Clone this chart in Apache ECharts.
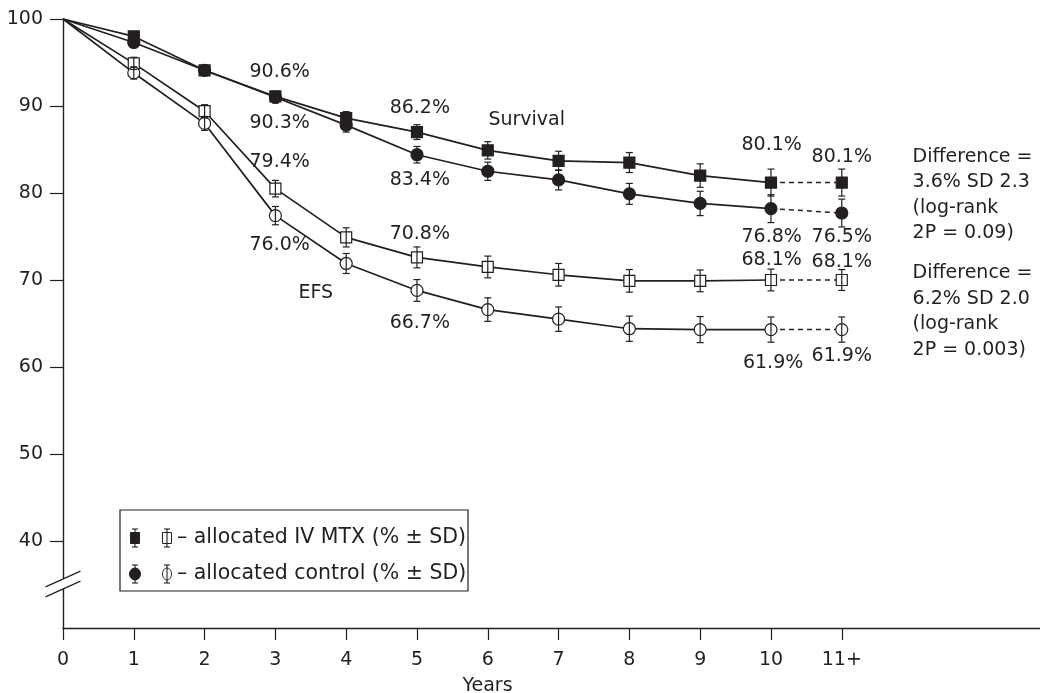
<!DOCTYPE html>
<html><head><meta charset="utf-8">
<script src="https://cdn.jsdelivr.net/npm/echarts@6/dist/echarts.min.js"></script>
<style>html,body{margin:0;padding:0;background:#fff}#c{width:1040px;height:693px}</style>
</head><body><div id="c"></div>
<script>
// ---- data (index 11 = "11+") ----
const years = [0, 1, 2, 3, 4, 5, 6, 7, 8, 9, 10, 11];
const xTickValues = [0, 1, 2, 3, 4, 5, 6, 7, 8, 9, 10, 11];
const xTickLabels = ['0', '1', '2', '3', '4', '5', '6', '7', '8', '9', '10', '11+'];
const yTickValues = [40, 50, 60, 70, 80, 90, 100];

const survMTX  = [100, 98.0, 94.1, 91.1, 88.6, 87.0, 84.9, 83.7, 83.5, 82.0, 81.2, 81.2];
const survCtrl = [100, 97.3, 94.1, 91.0, 87.8, 84.4, 82.5, 81.5, 79.9, 78.8, 78.2, 77.7];
const efsMTX   = [100, 94.9, 89.4, 80.5, 74.9, 72.6, 71.5, 70.6, 69.9, 69.9, 70.0, 70.0];
const efsCtrl  = [100, 93.8, 88.0, 77.4, 71.9, 68.8, 66.6, 65.5, 64.4, 64.3, 64.3, 64.3];

const survMTXsd  = [0, 0.4, 0.5, 0.6, 0.75, 0.85, 1.0, 1.1, 1.15, 1.35, 1.55, 1.55];
const survCtrlsd = [0, 0.4, 0.5, 0.65, 0.8, 0.95, 1.05, 1.15, 1.2, 1.4, 1.6, 1.6];
const efsMTXsd   = [0, 0.7, 0.75, 0.95, 1.1, 1.2, 1.25, 1.3, 1.3, 1.25, 1.25, 1.2];
const efsCtrlsd  = [0, 0.7, 0.8, 1.05, 1.15, 1.25, 1.35, 1.4, 1.45, 1.5, 1.45, 1.45];

// text annotations in data coordinates [year, percent]
const annotations = [
  { text: '90.6%', x: 3.06, y: 93.9 },
  { text: '90.3%', x: 3.06, y: 88.0 },
  { text: '79.4%', x: 3.06, y: 83.6 },
  { text: '76.0%', x: 3.06, y: 74.0 },
  { text: '86.2%', x: 5.04, y: 89.8 },
  { text: '83.4%', x: 5.04, y: 81.5 },
  { text: '70.8%', x: 5.04, y: 75.3 },
  { text: '66.7%', x: 5.04, y: 65.1 },
  { text: 'Survival', x: 6.55, y: 88.4 },
  { text: 'EFS', x: 3.57, y: 68.5 },
  { text: '80.1%', x: 10.01, y: 85.5 },
  { text: '80.1%', x: 11.0, y: 84.1 },
  { text: '76.8%', x: 10.01, y: 74.9 },
  { text: '76.5%', x: 11.0, y: 74.9 },
  { text: '68.1%', x: 10.01, y: 72.3 },
  { text: '68.1%', x: 11.0, y: 72.1 },
  { text: '61.9%', x: 10.03, y: 60.5 },
  { text: '61.9%', x: 11.0, y: 61.2 },
  { text: 'Difference =\n3.6% SD 2.3\n(log-rank\n2P = 0.09)', x: 12.0, y: 79.74, align: 'left' },
  { text: 'Difference =\n6.2% SD 2.0\n(log-rank\n2P = 0.003)', x: 12.0, y: 66.4, align: 'left' }
];

const legendRows = [
  { text: '– allocated IV MTX (% ± SD)', shape: 'square' },
  { text: '– allocated control (% ± SD)', shape: 'circle' }
];

// ---- styling ----
const INK = '#231f20';
const FONT = '"DejaVu Sans", "Liberation Sans", sans-serif';
const FS = 19;

function solidLine(vals, symbol, size, filled) {
  const data = [];
  for (let i = 0; i <= 10; i++) {
    const d = { value: [years[i], vals[i]] };
    if (i === 0) d.symbol = 'none';
    data.push(d);
  }
  return {
    type: 'line', data, symbol, symbolSize: size, showAllSymbol: true, z: 2,
    lineStyle: { color: INK, width: 1.7 },
    itemStyle: { color: filled ? INK : '#fff', borderColor: INK, borderWidth: 1.2 }
  };
}
function dashedLine(vals, symbol, size, filled) {
  return {
    type: 'line', z: 2, symbol, symbolSize: size,
    data: [{ value: [years[10], vals[10]], symbol: 'none' }, { value: [years[11], vals[11]] }],
    lineStyle: { color: INK, width: 1.5, type: [5, 4] },
    itemStyle: { color: filled ? INK : '#fff', borderColor: INK, borderWidth: 1.2 }
  };
}
function errBars(vals, sds, z) {
  const data = [];
  for (let i = 1; i < vals.length; i++) data.push([years[i], vals[i] - sds[i], vals[i] + sds[i]]);
  return {
    type: 'custom', z, silent: true, data,
    encode: { x: 0, y: [1, 2] },
    renderItem(params, api) {
      const x = api.value(0);
      const lo = api.coord([x, api.value(1)]);
      const hi = api.coord([x, api.value(2)]);
      const w = 3.5;
      const st = { stroke: INK, lineWidth: 1.2 };
      return {
        type: 'group', children: [
          { type: 'line', shape: { x1: lo[0], y1: lo[1], x2: hi[0], y2: hi[1] }, style: st },
          { type: 'line', shape: { x1: lo[0] - w, y1: lo[1], x2: lo[0] + w, y2: lo[1] }, style: st },
          { type: 'line', shape: { x1: hi[0] - w, y1: hi[1], x2: hi[0] + w, y2: hi[1] }, style: st }
        ]
      };
    }
  };
}

const chart = echarts.init(document.getElementById('c'), null, { renderer: 'canvas' });

const option = {
  animation: false,
  backgroundColor: '#fff',
  textStyle: { fontFamily: FONT },
  grid: { left: 63, top: 19, right: 0, bottom: 65, containLabel: false, outerBoundsMode: 'none' },
  xAxis: {
    type: 'value', min: 0, max: 13.8, interval: 1,
    name: 'Years', nameLocation: 'middle', nameGap: 49,
    nameTextStyle: { color: INK, fontSize: FS, fontFamily: FONT, padding: [0, 128, 0, 0] },
    axisLine: { lineStyle: { color: INK, width: 1.4 } },
    axisTick: { show: true, length: 12, inside: false, customValues: xTickValues, lineStyle: { color: INK, width: 1.2 } },
    axisLabel: {
      color: INK, fontSize: FS, fontFamily: FONT, margin: 23,
      customValues: xTickValues,
      formatter: v => xTickLabels[xTickValues.indexOf(v)] || ''
    },
    splitLine: { show: false }
  },
  yAxis: {
    type: 'value', min: 30, max: 100, interval: 10,
    axisLine: { show: true, lineStyle: { color: INK, width: 1.4 } },
    axisTick: { show: true, length: 13, customValues: yTickValues, lineStyle: { color: INK, width: 1.2 } },
    axisLabel: { color: INK, fontSize: FS, fontFamily: FONT, margin: 20, customValues: yTickValues },
    splitLine: { show: false }
  },
  series: [
    errBars(survMTX, survMTXsd, 1),
    errBars(survCtrl, survCtrlsd, 1),
    errBars(efsMTX, efsMTXsd, 4),
    errBars(efsCtrl, efsCtrlsd, 4),
    solidLine(survMTX, 'rect', 11, true),
    solidLine(survCtrl, 'circle', 12, true),
    solidLine(efsMTX, 'rect', 11, false),
    solidLine(efsCtrl, 'circle', 12, false),
    dashedLine(survMTX, 'rect', 11, true),
    dashedLine(survCtrl, 'circle', 12, true),
    dashedLine(efsMTX, 'rect', 11, false),
    dashedLine(efsCtrl, 'circle', 12, false),
    {
      type: 'custom', z: 5, silent: true,
      data: annotations.map(a => [a.x, a.y]),
      encode: { x: 0, y: 1 },
      renderItem(params, api) {
        const a = annotations[params.dataIndex];
        const p = api.coord([a.x, a.y]);
        return {
          type: 'text', x: p[0], y: p[1],
          style: {
            text: a.text, fill: INK, fontSize: FS, fontFamily: FONT,
            align: a.align || 'center', verticalAlign: 'middle', lineHeight: 25.5
          }
        };
      }
    }
  ]
};
chart.setOption(option);

// ---- axis break + legend box (graphic) ----
const brk = chart.convertToPixel({ gridIndex: 0 }, [0, 35.06]);
const bx = brk[0], by = brk[1];
const half = 17.5, slope = 0.449, gap = 5;
function seg(dy) {
  return { x1: bx - half, y1: by + dy + half * slope, x2: bx + half, y2: by + dy - half * slope };
}
const legendX = 120, legendY = 510, legendW = 348, legendH = 81;
const rowY = [538, 574];
const graphics = [
  { type: 'polygon', z: 50, shape: { points: [[bx - 4, by - gap + 4 * slope], [bx + 4, by - gap - 4 * slope], [bx + 4, by + gap - 4 * slope], [bx - 4, by + gap + 4 * slope]] }, style: { fill: '#fff' } },
  { type: 'line', z: 51, shape: seg(-gap), style: { stroke: INK, lineWidth: 1.2 } },
  { type: 'line', z: 51, shape: seg(gap), style: { stroke: INK, lineWidth: 1.2 } },
  { type: 'rect', z: 40, shape: { x: legendX, y: legendY, width: legendW, height: legendH }, style: { fill: '#fff', stroke: INK, lineWidth: 1.2 } }
];
legendRows.forEach((r, i) => {
  const cy = rowY[i];
  const st = { stroke: INK, lineWidth: 1.1 };
  [135, 167].forEach((cx, k) => {
    graphics.push({ type: 'line', z: 41, shape: { x1: cx, y1: cy - 9, x2: cx, y2: cy + 9 }, style: st });
    graphics.push({ type: 'line', z: 41, shape: { x1: cx - 3, y1: cy - 9, x2: cx + 3, y2: cy - 9 }, style: st });
    graphics.push({ type: 'line', z: 41, shape: { x1: cx - 3, y1: cy + 9, x2: cx + 3, y2: cy + 9 }, style: st });
    const filled = k === 0;
    if (r.shape === 'square') {
      graphics.push({ type: 'rect', z: filled ? 42 : 40.5, shape: { x: cx - 4.5, y: cy - 5.5, width: 9, height: 11 }, style: { fill: filled ? INK : '#fff', stroke: INK, lineWidth: 1 } });
    } else {
      graphics.push({ type: 'ellipse', z: filled ? 42 : 40.5, shape: { cx, cy, rx: filled ? 5.5 : 4.5, ry: 6 }, style: { fill: filled ? INK : '#fff', stroke: INK, lineWidth: 1 } });
    }
  });
  graphics.push({ type: 'text', z: 42, x: 177, y: cy, style: { text: r.text, fill: INK, fontSize: 20.5, fontFamily: FONT, verticalAlign: 'middle', align: 'left' } });
});
chart.setOption({ graphic: graphics });
</script>
</body></html>
